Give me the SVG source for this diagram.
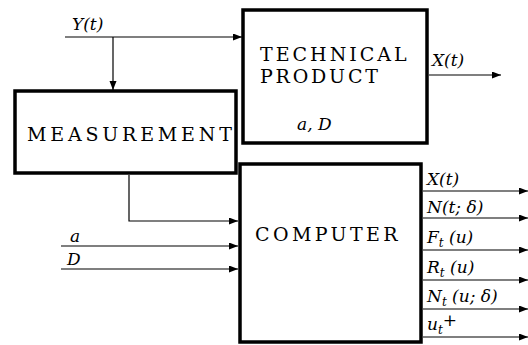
<svg xmlns="http://www.w3.org/2000/svg" width="528" height="345" viewBox="0 0 528 345">
<style>
text{font-family:'DejaVu Serif',serif;fill:#000}
.box{fill:#fff;stroke:#000;stroke-width:3.5}
.ln{fill:none;stroke:#000;stroke-width:1.2}
.cap{font-size:19px}
.it{font-size:17px;font-style:italic}
</style>
<defs>
<marker id="ah" markerUnits="userSpaceOnUse" markerWidth="10" markerHeight="8" refX="9" refY="3.5" orient="auto">
<path d="M0,0 L9,3.5 L0,7 z" fill="#000"/>
</marker>
</defs>
<g id="connectors">
<path class="ln" d="M65,37 H242" marker-end="url(#ah)"/>
<path class="ln" d="M113,37 V90" marker-end="url(#ah)"/>
<path class="ln" d="M429,75 H501" marker-end="url(#ah)"/>
<path class="ln" d="M129,175 V221 H238" marker-end="url(#ah)"/>
<path class="ln" d="M61,246 H238" marker-end="url(#ah)"/>
<path class="ln" d="M61,269 H238" marker-end="url(#ah)"/>
<path class="ln" d="M423,191 H528" marker-end="url(#ah)"/>
<path class="ln" d="M423,218 H528" marker-end="url(#ah)"/>
<path class="ln" d="M423,250 H528" marker-end="url(#ah)"/>
<path class="ln" d="M423,280 H528" marker-end="url(#ah)"/>
<path class="ln" d="M423,309 H528" marker-end="url(#ah)"/>
<path class="ln" d="M423,337 H528" marker-end="url(#ah)"/>
<text class="it" x="72" y="30">Y(t)</text>
<text class="it" x="432" y="66">X(t)</text>
<text class="it" x="70" y="242">a</text>
<text class="it" x="67" y="265">D</text>
<text class="it" x="427" y="185">X(t)</text>
<text class="it" x="427" y="213">N(t; δ)</text>
<text class="it" x="427" y="243">F<tspan font-size="12" dy="4">t</tspan><tspan dy="-4"> (u)</tspan></text>
<text class="it" x="427" y="273">R<tspan font-size="12" dy="4">t</tspan><tspan dy="-4"> (u)</tspan></text>
<text class="it" x="427" y="302">N<tspan font-size="12" dy="4">t</tspan><tspan dy="-4"> (u; δ)</tspan></text>
<text class="it" x="427" y="330">u<tspan font-size="12" dy="4">t</tspan><tspan font-style="normal" dy="-8">+</tspan></text>
</g>
<g id="technical-product">
<rect class="box" x="243" y="10" width="184" height="133"/>
<text class="cap" x="260" y="61" letter-spacing="3">TECHNICAL</text>
<text class="cap" x="260" y="83" letter-spacing="2.8">PRODUCT</text>
<text class="it" x="297" y="130">a, D</text>
</g>
<g id="measurement">
<rect class="box" x="15" y="91" width="221" height="82"/>
<text class="cap" x="27" y="141" letter-spacing="3.8">MEASUREMENT</text>
</g>
<g id="computer">
<rect class="box" x="240" y="164" width="181" height="178"/>
<text class="cap" x="255" y="241" letter-spacing="3.4">COMPUTER</text>
</g>
</svg>
